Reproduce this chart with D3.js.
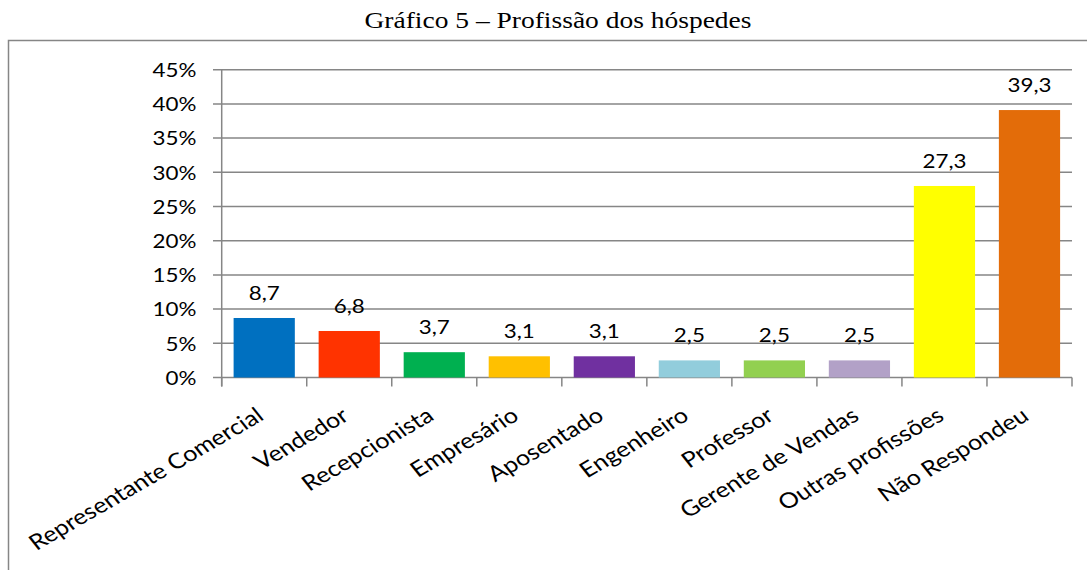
<!DOCTYPE html>
<html><head><meta charset="utf-8">
<script src="https://cdn.jsdelivr.net/npm/d3@7"></script>
<style>
html,body{margin:0;padding:0;background:#fff;}
svg{display:block;}
</style></head>
<body>
<svg id="c" width="1087" height="570"></svg>
<script>
const title = "Gráfico 5 – Profissão dos hóspedes";
const categories = ["Representante Comercial","Vendedor","Recepcionista","Empresário","Aposentado","Engenheiro","Professor","Gerente de Vendas","Outras profissões","Não Respondeu"];
const values = [8.7, 6.8, 3.7, 3.1, 3.1, 2.5, 2.5, 2.5, 28.0, 39.1];
const valueLabels = ["8,7","6,8","3,7","3,1","3,1","2,5","2,5","2,5","27,3","39,3"];
const colors = ["#0070C0","#FF3300","#00B050","#FFC000","#7030A0","#92CDDC","#92D050","#B2A1C7","#FFFF00","#E36C09"];
const yTicks = [0,5,10,15,20,25,30,35,40,45];

const svg = d3.select("#c");
const FONT = "Lato, 'Open Sans', sans-serif";
const SX = 1.17;   // horizontal stretch of the original picture
const NSX = 1.12;  // stretch applied to numeric labels

// frame
svg.append("path").attr("d","M8.5,570 V40.5 H1087").attr("fill","none").attr("stroke","#868686").attr("stroke-width",1.5);

svg.append("text").attr("transform",`translate(558,28) scale(${SX},1)`).attr("text-anchor","middle")
  .attr("font-family","'Liberation Serif','Times New Roman',serif").attr("font-size",23.5).attr("fill","#000").text(title);

const x = d3.scaleBand().domain(categories).range([221.7,1072]).paddingInner(0.28).paddingOuter(0.14);
const y = d3.scaleLinear().domain([0,45]).range([377.5,69.7]);

// gridlines
svg.append("g").selectAll("line").data(yTicks).join("line")
  .attr("x1",213).attr("x2",1072).attr("y1",d=>y(d)).attr("y2",d=>y(d))
  .attr("stroke","#868686").attr("stroke-width",1.5);

// y axis labels
svg.append("g").selectAll("text").data(yTicks).join("text")
  .attr("transform",d=>`translate(196.5,${y(d)}) scale(${NSX},1)`)
  .attr("text-anchor","end").attr("dy","0.36em")
  .attr("font-family",FONT).attr("font-size",20).attr("fill","#000")
  .text(d=>d+"%");
svg.append("line").attr("x1",221.7).attr("x2",221.7).attr("y1",69.7).attr("y2",386.5).attr("stroke","#868686").attr("stroke-width",1.5);

// x ticks at band boundaries
const bounds = categories.map(c=>x(c)-x.step()*x.paddingInner()/2).concat([1072]);
svg.append("g").selectAll("line").data(bounds).join("line")
  .attr("x1",d=>d).attr("x2",d=>d).attr("y1",377.5).attr("y2",386.5)
  .attr("stroke","#868686").attr("stroke-width",1.5);

// bars
svg.append("g").selectAll("rect").data(categories).join("rect")
  .attr("x",d=>x(d)).attr("width",x.bandwidth())
  .attr("y",(d,i)=>y(values[i])).attr("height",(d,i)=>y(0)-y(values[i]))
  .attr("fill",(d,i)=>colors[i]);

// value labels
svg.append("g").selectAll("text").data(categories).join("text")
  .attr("transform",(d,i)=>`translate(${x(d)+x.bandwidth()/2},${y(values[i])-18}) scale(${NSX},1)`)
  .attr("text-anchor","middle").attr("font-family",FONT).attr("font-size",20).attr("fill","#000")
  .text((d,i)=>valueLabels[i]);

// category labels
svg.append("g").selectAll("text").data(categories).join("text")
  .attr("transform",d=>`translate(${x(d)+x.bandwidth()/2+1},419) scale(${SX},1) rotate(-34)`)
  .attr("text-anchor","end").attr("font-family",FONT).attr("font-size",21.5).attr("fill","#000")
  .text(d=>d);
</script>
</body></html>
